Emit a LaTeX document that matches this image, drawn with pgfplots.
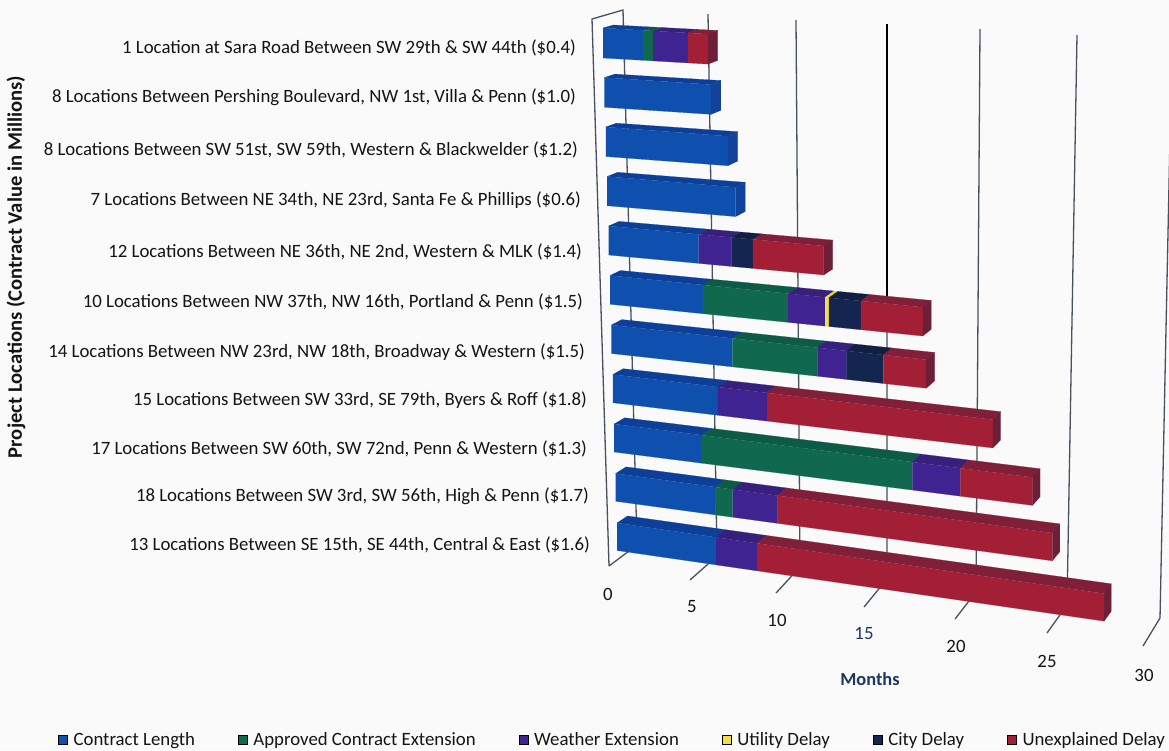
\documentclass[border=0pt]{standalone}
\usepackage{pgfplots}
\usepackage{fontspec}
\setmainfont{Carlito}
\pgfplotsset{compat=1.18}

\definecolor{pagebg}{HTML}{FAFAFA}
\definecolor{gridc}{HTML}{46525E}
\definecolor{txt}{HTML}{141414}
\definecolor{navytxt}{HTML}{1F3560}
% front, top and end faces of each delay type
\definecolor{clenF}{HTML}{0F50AE}\definecolor{clenT}{HTML}{0D3F98}\definecolor{clenS}{HTML}{13429A}
\definecolor{apprF}{HTML}{10694E}\definecolor{apprT}{HTML}{0D5A45}\definecolor{apprS}{HTML}{0C4A3A}
\definecolor{weatF}{HTML}{3F2390}\definecolor{weatT}{HTML}{36207C}\definecolor{weatS}{HTML}{2C1C66}
\definecolor{utilF}{HTML}{F0DF45}\definecolor{utilT}{HTML}{E8D23C}\definecolor{utilS}{HTML}{C8B030}
\definecolor{cityF}{HTML}{14264F}\definecolor{cityT}{HTML}{111F42}\definecolor{cityS}{HTML}{0F1A36}
\definecolor{unexF}{HTML}{A31F36}\definecolor{unexT}{HTML}{7F1F3A}\definecolor{unexS}{HTML}{6C1F36}

% Oblique projection of (months, row) onto the drawing plane.
% Sets \xf, \ytf, \ybf (front face) and \xb, \ytb, \ybb (rear edge), suffixed by #3.
\newcommand{\project}[3]{%
  \pgfmathsetmacro{\dxx}{(1-0.0047*#2)*(16.74*#1+0.052*#1*#1)}%
  \pgfmathsetmacro{\slp}{0.058+0.0087*#2}%
  \expandafter\pgfmathsetmacro\csname xf#3\endcsname{603+1.4*#2+\dxx}%
  \expandafter\pgfmathsetmacro\csname ytf#3\endcsname{28+49.5*#2+\slp*\dxx}%
  \expandafter\pgfmathsetmacro\csname ybf#3\endcsname{58+49.25*#2+\slp*\dxx}%
  \pgfmathsetmacro{\ox}{10.5-0.12*#1}%
  \pgfmathsetmacro{\oy}{3+0.4*#2+0.1*#1}%
  \expandafter\pgfmathsetmacro\csname xb#3\endcsname{\csname xf#3\endcsname+\ox}%
  \expandafter\pgfmathsetmacro\csname ytb#3\endcsname{\csname ytf#3\endcsname-\oy}%
  \expandafter\pgfmathsetmacro\csname ybb#3\endcsname{\csname ybf#3\endcsname-\oy}%
}
% One stacked segment: row, start month, end month, colour stem
\newcommand{\seg}[4]{%
  \project{#2}{#1}{A}\project{#3}{#1}{B}%
  \addplot[forget plot,no markers,fill=#4T,draw=#4T,line width=0.2pt] coordinates
    {(\xfA,\ytfA) (\xbA,\ytbA) (\xbB,\ytbB) (\xfB,\ytfB)};
  \addplot[forget plot,no markers,fill=#4F,draw=#4F,line width=0.2pt] coordinates
    {(\xfA,\ytfA) (\xfB,\ytfB) (\xfB,\ybfB) (\xfA,\ybfA)};
}
% End cap of a bar: row, end month, colour stem
\newcommand{\capend}[3]{%
  \project{#2}{#1}{B}%
  \addplot[forget plot,no markers,fill=#3S,draw=#3S,line width=0.2pt] coordinates
    {(\xfB,\ytfB) (\xbB,\ytbB) (\xbB,\ybbB) (\xfB,\ybfB)};
}
% Category label at the left of a row
\newcommand{\rowlabel}[3]{\node[anchor=east,inner sep=0pt,text=txt,font=\fontsize{18.8}{20}\selectfont] at (axis cs:#1,#2+1.5) {#3};}
% Vertical wall line with its floor tick
\newcommand{\wall}[6]{%
  \addplot[forget plot,no markers,color=gridc,line width=1.3pt] coordinates {(#1,#2) (#3,#4) (#5,#6)};
}
\newcommand{\monthlabel}[4][txt]{\node[text=#1,inner sep=0pt,font=\fontsize{18.8}{20}\selectfont] at (axis cs:#2,#3) {#4};}

\begin{document}
\begin{tikzpicture}
\begin{axis}[
  scale only axis, width=1169pt, height=750pt,
  xmin=0, xmax=1169, ymin=0, ymax=750, y dir=reverse,
  axis lines=none, axis background/.style={fill=pagebg},
  legend columns=6,
  legend style={at={(axis cs:58,740)},anchor=west,draw=none,fill=none,inner sep=0pt,
    font=\fontsize{18.8}{20}\selectfont,text=txt,
    nodes={inner sep=0pt},
    /tikz/every odd column/.append style={column sep=6pt},
    /tikz/every even column/.append style={column sep=43pt}},
  legend cell align=left,
  legend image code/.code={\fill[#1] (0pt,-4.5pt) rectangle (9pt,4.5pt);},
]
\addlegendimage{fill=clenF}\addlegendentry{Contract Length}
\addlegendimage{fill=apprF}\addlegendentry{Approved Contract Extension}
\addlegendimage{fill=weatF}\addlegendentry{Weather Extension}
\addlegendimage{fill=utilF}\addlegendentry{Utility Delay}
\addlegendimage{fill=cityF}\addlegendentry{City Delay}
\addlegendimage{fill=unexF}\addlegendentry{Unexplained Delay}

% Side wall and month lines
\addplot[forget plot,no markers,color=gridc,line width=1.3pt] coordinates {(609,566) (592,19) (623,10) (637,545) (609,566)};
\wall{708}{14}{717}{556}{690}{580}
\wall{796}{20}{800}{567}{776}{593}
\addplot[forget plot,no markers,color=black,line width=1.3pt] coordinates {(887,24) (887,300)};
\addplot[forget plot,no markers,color=gridc,line width=1.3pt] coordinates {(887,300) (887,579) (864,607)};
\wall{980}{29}{976}{592}{955}{619}
\wall{1077}{35}{1067}{605}{1047}{633}
\wall{1172}{40}{1160}{618}{1143}{646}

% Stacked bars, top row first; rows below overlap those above
\seg{0}{0}{2.37}{clen}\seg{0}{2.37}{2.96}{appr}\seg{0}{2.96}{4.99}{weat}\seg{0}{4.99}{6.15}{unex}\capend{0}{6.15}{unex}
\seg{1}{0}{6.28}{clen}\capend{1}{6.28}{clen}
\seg{2}{0}{7.20}{clen}\capend{2}{7.20}{clen}
\seg{3}{0}{7.60}{clen}\capend{3}{7.60}{clen}
\seg{4}{0}{5.39}{clen}\seg{4}{5.39}{7.32}{weat}\seg{4}{7.32}{8.55}{city}\seg{4}{8.55}{12.60}{unex}\capend{4}{12.60}{unex}
\seg{5}{0}{5.58}{clen}\seg{5}{5.58}{10.55}{appr}\seg{5}{10.55}{12.66}{weat}\seg{5}{12.66}{12.88}{util}\seg{5}{12.88}{14.68}{city}\seg{5}{14.68}{18.12}{unex}\capend{5}{18.12}{unex}
\seg{6}{0}{7.27}{clen}\seg{6}{7.27}{12.20}{appr}\seg{6}{12.20}{13.85}{weat}\seg{6}{13.85}{15.93}{city}\seg{6}{15.93}{18.31}{unex}\capend{6}{18.31}{unex}
\seg{7}{0}{6.36}{clen}\seg{7}{6.36}{9.25}{weat}\seg{7}{9.25}{21.97}{unex}\capend{7}{21.97}{unex}
\seg{8}{0}{5.37}{clen}\seg{8}{5.37}{17.55}{appr}\seg{8}{17.55}{20.22}{weat}\seg{8}{20.22}{24.15}{unex}\capend{8}{24.15}{unex}
\seg{9}{0}{6.12}{clen}\seg{9}{6.12}{7.14}{appr}\seg{9}{7.14}{9.80}{weat}\seg{9}{9.80}{25.26}{unex}\capend{9}{25.26}{unex}
\seg{10}{0}{6.09}{clen}\seg{10}{6.09}{8.55}{weat}\seg{10}{8.55}{28.08}{unex}\capend{10}{28.08}{unex}

% Project location labels
\rowlabel{576}{46}{1 Location at Sara Road Between SW 29th \& SW 44th (\$0.4)}
\rowlabel{576}{96}{8 Locations Between Pershing Boulevard, NW 1st, Villa \& Penn (\$1.0)}
\rowlabel{578}{148}{8 Locations Between SW 51st, SW 59th, Western \& Blackwelder (\$1.2)}
\rowlabel{581}{199}{7 Locations Between NE 34th, NE 23rd, Santa Fe \& Phillips (\$0.6)}
\rowlabel{582}{250}{12 Locations Between NE 36th, NE 2nd, Western \& MLK (\$1.4)}
\rowlabel{583}{300}{10 Locations Between NW 37th, NW 16th, Portland \& Penn (\$1.5)}
\rowlabel{585}{351}{14 Locations Between NW 23rd, NW 18th, Broadway \& Western (\$1.5)}
\rowlabel{587}{399}{15 Locations Between SW 33rd, SE 79th, Byers \& Roff (\$1.8)}
\rowlabel{587}{447}{17 Locations Between SW 60th, SW 72nd, Penn \& Western (\$1.3)}
\rowlabel{589}{495}{18 Locations Between SW 3rd, SW 56th, High \& Penn (\$1.7)}
\rowlabel{590}{543}{13 Locations Between SE 15th, SE 44th, Central \& East (\$1.6)}

% Month tick labels
\monthlabel{608}{594}{0}
\monthlabel{692}{607}{5}
\monthlabel{777}{620}{10}
\monthlabel[navytxt]{864}{634}{15}
\monthlabel{956}{646}{20}
\monthlabel{1047}{661}{25}
\monthlabel{1144}{675}{30}

% Axis titles
\node[text=navytxt,inner sep=0pt,font=\fontsize{18.4}{20}\selectfont\bfseries] at (axis cs:870,679) {Months};
\node[text=txt,inner sep=0pt,rotate=90,font=\fontsize{20.6}{22}\selectfont\bfseries] at (axis cs:16,267) {Project Locations (Contract Value in Millions)};
\end{axis}
\end{tikzpicture}
\end{document}
